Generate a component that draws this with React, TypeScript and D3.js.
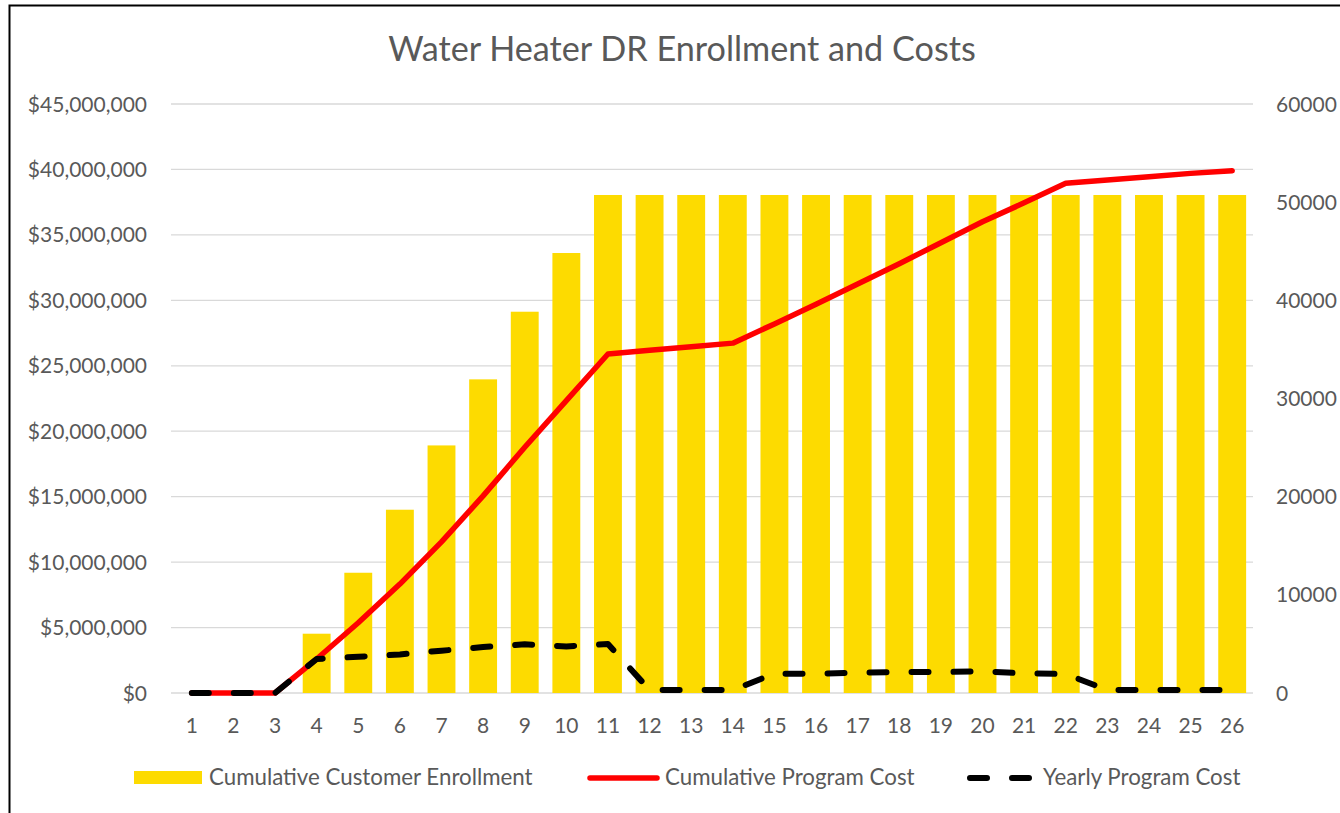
import * as d3 from "d3";

const years = d3.range(1, 27).map(String);

// cumulative customers enrolled (right axis)
const enrollment = [
  0, 0, 0, 6040, 12250, 18670, 25220, 31950, 38840, 44820, 50730, 50730, 50730,
  50730, 50730, 50730, 50730, 50730, 50730, 50730, 50730, 50730, 50730, 50730,
  50730, 50730,
];

// cumulative program cost, $
const cumulativeCost = [
  0, 0, 0, 2600000, 5370000, 8320000, 11550000, 15060000, 18780000, 22340000,
  25900000, 26180000, 26450000, 26730000, 28200000, 29700000, 31250000,
  32800000, 34400000, 36000000, 37450000, 38950000, 39200000, 39450000,
  39700000, 39900000,
];

// yearly program cost, $
const yearlyCost = [
  0, 0, 0, 2600000, 2770000, 2950000, 3230000, 3510000, 3720000, 3560000,
  3740000, 230000, 230000, 230000, 1480000, 1470000, 1550000, 1600000,
  1600000, 1660000, 1500000, 1450000, 230000, 230000, 230000, 230000,
];

const leftTicks = d3.range(0, 45000001, 5000000);
const rightTicks = d3.range(0, 60001, 10000);

const title = "Water Heater DR Enrollment and Costs";
const legendLabels = [
  "Cumulative Customer Enrollment",
  "Cumulative Program Cost",
  "Yearly Program Cost",
];

const W = 1340;
const H = 813;
const font = "Lato, 'Open Sans', sans-serif";
const textColor = "#595959";
const gold = "#FDDB00";
const tickSize = 21;
const legendSize = 22.3;

export default function App() {
  const x = d3
    .scaleBand<string>()
    .domain(years)
    .range([171, 1253])
    .paddingInner(0.33)
    .paddingOuter(0.165);
  const yCost = d3.scaleLinear().domain([0, 45000000]).range([693, 104]);
  const yCount = d3.scaleLinear().domain([0, 60000]).range([693, 104]);
  const cx = (i: number) => (x(years[i]) as number) + x.bandwidth() / 2;

  const line = d3
    .line<number>()
    .x((_, i) => cx(i))
    .y((d) => yCost(d));

  const money = (v: number) => "$" + d3.format(",")(v);

  return (
    <svg
      width={W}
      height={H}
      style={{ position: "absolute", left: 0, top: 0, background: "#fff" }}
      fontFamily={font}
    >
      <rect x={9.5} y={5.5} width={1340} height={820} fill="#fff" stroke="#000" strokeWidth={2} />

      <text x={682} y={61} textAnchor="middle" fontSize={34.2} fill={textColor}>
        {title}
      </text>

      {leftTicks.map((t) => (
        <g key={"g" + t}>
          <line
            x1={171}
            x2={1253}
            y1={yCost(t)}
            y2={yCost(t)}
            stroke="#D9D9D9"
            strokeWidth={1.3}
          />
          <text
            x={147}
            y={yCost(t)}
            dy="0.36em"
            textAnchor="end"
            fontSize={tickSize}
            fill={textColor}
          >
            {money(t)}
          </text>
        </g>
      ))}

      {rightTicks.map((t) => (
        <text
          key={"r" + t}
          x={1276}
          y={yCount(t)}
          dy="0.36em"
          fontSize={tickSize}
          fill={textColor}
        >
          {t}
        </text>
      ))}

      {enrollment.map((v, i) => (
        <rect
          key={"b" + i}
          x={x(years[i])}
          y={yCount(v)}
          width={x.bandwidth()}
          height={yCount(0) - yCount(v)}
          fill={gold}
        />
      ))}

      <path
        d={line(cumulativeCost) || ""}
        fill="none"
        stroke="#FF0000"
        strokeWidth={5.5}
        strokeLinejoin="round"
        strokeLinecap="round"
      />
      <path
        d={line(yearlyCost) || ""}
        fill="none"
        stroke="#000"
        strokeWidth={6}
        strokeDasharray="17 25"
        strokeLinejoin="round"
        strokeLinecap="round"
      />

      {years.map((yr, i) => (
        <text
          key={"x" + yr}
          x={cx(i)}
          y={733}
          textAnchor="middle"
          fontSize={tickSize}
          fill={textColor}
        >
          {yr}
        </text>
      ))}

      {/* legend */}
      <rect x={134} y={771} width={68} height={13} fill={gold} />
      <text x={209} y={785} fontSize={legendSize} fill={textColor}>
        {legendLabels[0]}
      </text>
      <line x1={590} x2={657} y1={778} y2={778} stroke="#FF0000" strokeWidth={5.5} strokeLinecap="round" />
      <text x={665} y={785} fontSize={legendSize} fill={textColor}>
        {legendLabels[1]}
      </text>
      <line x1={970} x2={1030} y1={778} y2={778} stroke="#000" strokeWidth={6} strokeDasharray="17 25" strokeLinecap="round" />
      <text x={1043} y={785} fontSize={legendSize} fill={textColor}>
        {legendLabels[2]}
      </text>
    </svg>
  );
}
